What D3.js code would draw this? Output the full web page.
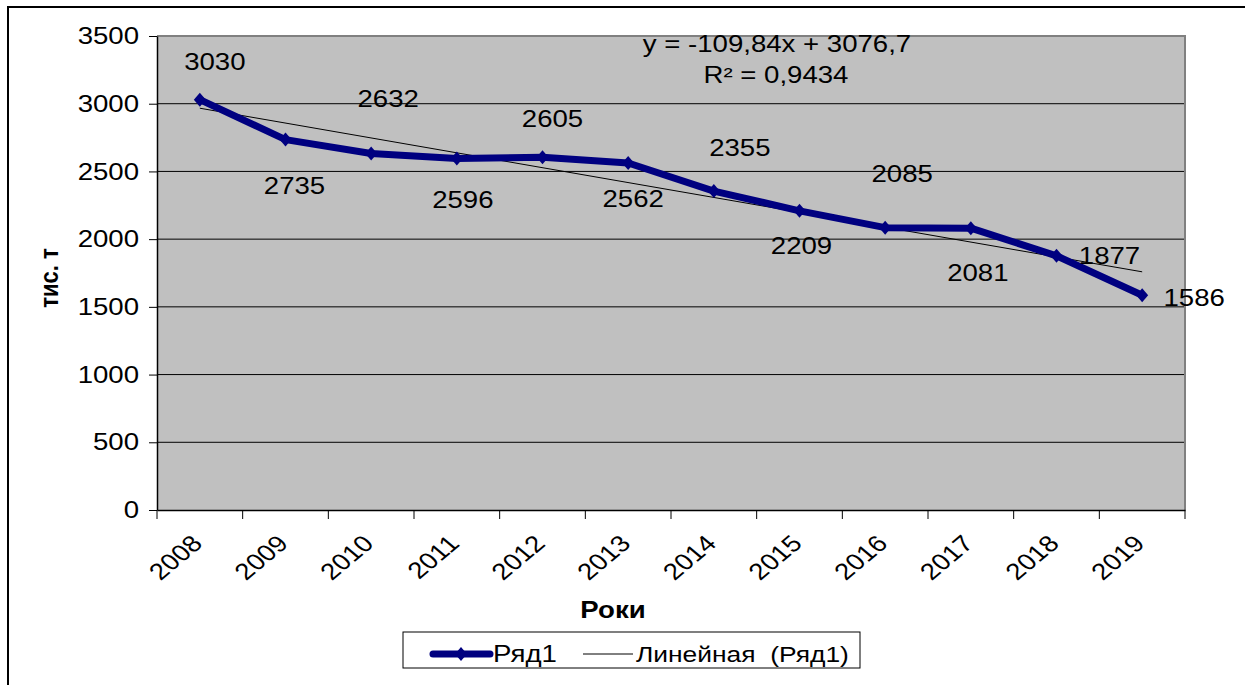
<!DOCTYPE html>
<html>
<head>
<meta charset="utf-8">
<script src="https://cdn.jsdelivr.net/npm/d3@7"></script>
<style>
  body { margin: 0; background: #fff; }
  svg text { font-family: "Liberation Sans", Arial, sans-serif; fill: #000; white-space: pre; }
</style>
</head>
<body>
<svg width="1245" height="685"></svg>
<script>
// ---------------------------------------------------------------
// dati del grafico
// ---------------------------------------------------------------
var years  = ["2008","2009","2010","2011","2012","2013","2014","2015","2016","2017","2018","2019"];
var values = [3030, 2735, 2632, 2596, 2605, 2562, 2355, 2209, 2085, 2081, 1877, 1586];
var yTicks = [0, 500, 1000, 1500, 2000, 2500, 3000, 3500];
var seriesName = "Ряд1";
var trendName  = "Линейная  (Ряд1)";
var xTitle = "Роки";
var yTitle = "тис. т";

// posizione delle etichette rispetto al punto (pixel)
var labelShift = [[15,-38],[9,46],[17,-55],[6,41],[10,-38],[5,36],[26,-43],[2,35],[17,-54],[7,45],[53,0],[52,3]];

var SX = 1.2; // il testo del riferimento e' allargato in orizzontale

var svg = d3.select("svg");
var plot = {left: 157, top: 36, right: 1185, bottom: 510};

// cornice esterna
svg.append("rect")
  .attr("x", 8).attr("y", 7).attr("width", 1260).attr("height", 700)
  .attr("fill", "#fff").attr("stroke", "#000").attr("stroke-width", 2);

var x = d3.scaleBand().domain(years).range([plot.left, plot.right]);
var y = d3.scaleLinear().domain([0, 3500]).range([plot.bottom, plot.top]);
function cx(d) { return x(d) + x.bandwidth() / 2; }

// testo allargato
function label(g, px, py, txt, size, extra) {
  var t = g.append("text")
    .attr("transform", "translate(" + px + "," + py + ") scale(" + SX + ",1)" + (extra || ""))
    .style("font-size", size + "px")
    .text(txt);
  return t;
}

// area del grafico
svg.append("rect")
  .attr("x", plot.left).attr("y", plot.top)
  .attr("width", plot.right - plot.left).attr("height", plot.bottom - plot.top)
  .attr("fill", "#c0c0c0");

// griglia
svg.append("g").selectAll("line")
  .data(yTicks.filter(function(d){ return d > 0 && d < 3500; }))
  .enter().append("line")
  .attr("x1", plot.left).attr("x2", plot.right)
  .attr("y1", function(d){ return y(d); }).attr("y2", function(d){ return y(d); })
  .attr("stroke", "#000").attr("stroke-width", 1);

// bordo grigio superiore e destro
svg.append("path")
  .attr("d", "M" + plot.left + "," + plot.top + "H" + plot.right + "V" + plot.bottom)
  .attr("fill", "none").attr("stroke", "#808080").attr("stroke-width", 2);

// asse y
var yAxis = svg.append("g")
  .attr("transform", "translate(" + plot.left + ",0)")
  .call(d3.axisLeft(y).tickValues(yTicks).tickSize(8).tickSizeOuter(0).tickFormat(""));
yAxis.select(".domain").attr("stroke-width", 1.5);
yTicks.forEach(function(v) {
  label(svg, 139, y(v), String(v), 23)
    .attr("text-anchor", "end")
    .attr("dominant-baseline", "central");
});

// asse x
var xAxis = svg.append("g")
  .attr("transform", "translate(0," + plot.bottom + ")")
  .call(d3.axisBottom(x).tickValues([]).tickSizeOuter(0));
xAxis.select(".domain").attr("stroke-width", 1.5);
var xb = years.map(function(d){ return x(d); }).concat([plot.right]);
svg.append("g").selectAll("line").data(xb).enter().append("line")
  .attr("x1", function(d){ return d; }).attr("x2", function(d){ return d; })
  .attr("y1", plot.bottom).attr("y2", plot.bottom + 9)
  .attr("stroke", "#000").attr("stroke-width", 1);
years.forEach(function(d) {
  label(svg, cx(d) + 4, plot.bottom + 35, d, 23, " rotate(-45)")
    .attr("text-anchor", "end");
});

// titoli degli assi
label(svg, 613, 618, xTitle, 23).attr("text-anchor", "middle").style("font-weight", "bold");
svg.append("text")
  .attr("transform", "translate(58,278) rotate(-90) scale(1,1.15)")
  .attr("text-anchor", "middle")
  .style("font-size", "22px").style("font-weight", "bold")
  .text(yTitle);

// linea di tendenza (minimi quadrati)
var n = values.length;
var xs = d3.range(1, n + 1);
var mx = d3.mean(xs), my = d3.mean(values);
var slope = d3.sum(xs, function(v, i){ return (v - mx) * (values[i] - my); }) /
            d3.sum(xs, function(v){ return (v - mx) * (v - mx); });
var icpt = my - slope * mx;
svg.append("line")
  .attr("x1", cx(years[0])).attr("y1", y(icpt + slope * 1))
  .attr("x2", cx(years[n - 1])).attr("y2", y(icpt + slope * n))
  .attr("stroke", "#000").attr("stroke-width", 1);

// serie
var line = d3.line()
  .x(function(d, i){ return cx(years[i]); })
  .y(function(d){ return y(d); });
svg.append("path").datum(values)
  .attr("d", line)
  .attr("fill", "none").attr("stroke", "#000080").attr("stroke-width", 7)
  .attr("stroke-linejoin", "round");
svg.append("g").selectAll("path").data(values).enter().append("path")
  .attr("d", "M0,-7L6,0L0,7L-6,0Z")
  .attr("transform", function(d, i){ return "translate(" + cx(years[i]) + "," + y(d) + ")"; })
  .attr("fill", "#000080");

// etichette dei valori
values.forEach(function(v, i) {
  label(svg, cx(years[i]) + labelShift[i][0], y(v) + labelShift[i][1], String(v), 23)
    .attr("text-anchor", "middle")
    .attr("dominant-baseline", "central");
});

// equazione
var fmt = function(v, k){ return v.toFixed(k).replace(".", ","); };
var r2 = (function(){
  var ssr = d3.sum(values, function(v, i){ var f = icpt + slope * (i + 1); return (v - f) * (v - f); });
  var sst = d3.sum(values, function(v){ return (v - my) * (v - my); });
  return 1 - ssr / sst;
})();
label(svg, 777, 52, "y = " + fmt(slope, 2) + "x + " + fmt(icpt, 1), 23).attr("text-anchor", "middle");
label(svg, 776, 83, "R² = " + fmt(r2, 4), 23).attr("text-anchor", "middle");

// legenda
var lg = svg.append("g");
lg.append("rect").attr("x", 403).attr("y", 632).attr("width", 457).attr("height", 36)
  .attr("fill", "#fff").attr("stroke", "#000").attr("stroke-width", 1);
lg.append("line").attr("x1", 433).attr("x2", 490).attr("y1", 654).attr("y2", 654)
  .attr("stroke", "#000080").attr("stroke-width", 7).attr("stroke-linecap", "round");
lg.append("path").attr("d", "M0,-7L6,0L0,7L-6,0Z")
  .attr("transform", "translate(461,654)").attr("fill", "#000080");
label(lg, 493, 662, seriesName, 23);
lg.append("line").attr("x1", 583).attr("x2", 633).attr("y1", 654).attr("y2", 654)
  .attr("stroke", "#000").attr("stroke-width", 1);
label(lg, 636, 662, trendName, 22);
</script>
</body>
</html>
